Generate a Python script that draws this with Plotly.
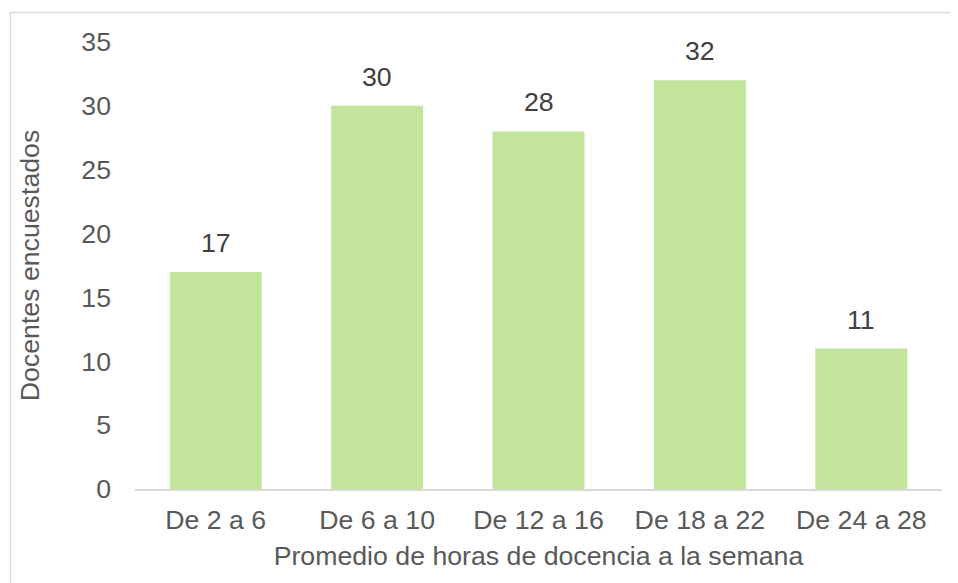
import plotly.graph_objects as go

categories = ["De 2 a 6", "De 6 a 10", "De 12 a 16", "De 18 a 22", "De 24 a 28"]
values = [17, 30, 28, 32, 11]
y_ticks = [0, 5, 10, 15, 20, 25, 30, 35]

TXT = "#595959"
FONT = "Liberation Sans, Arial, sans-serif"
FS = 26.7

W, H = 950, 575
L, R, T, B = 127, 16, 34, 94
PW, PH = W - L - R, H - T - B

fig = go.Figure(go.Bar(
    x=categories, y=values,
    marker=dict(color="#C2E49B", line=dict(width=0)),
    width=0.57,
))

for c, v in zip(categories, values):
    fig.add_annotation(x=c, y=v, text=str(v), showarrow=False,
                       yanchor="middle", yshift=29,
                       font=dict(size=FS, color="#404040", family=FONT))

fig.update_layout(
    width=W, height=H,
    margin=dict(l=L, r=R, t=T, b=B),
    paper_bgcolor="white", plot_bgcolor="white",
    font=dict(family=FONT, color=TXT, size=FS),
    showlegend=False,
    xaxis=dict(
        showline=True, linecolor="#D9D9D9", linewidth=1.5,
        showgrid=False, tickfont=dict(size=FS, color=TXT),
        ticklabelstandoff=6,
        title=dict(text="Promedio de horas de docencia a la semana",
                   font=dict(size=FS, color=TXT), standoff=13),
    ),
    yaxis=dict(
        range=[0, 35], tickvals=y_ticks, showgrid=False, zeroline=False,
        showline=False, tickfont=dict(size=FS, color=TXT),
        ticklabelstandoff=23,
        title=dict(text="Docentes encuestados",
                   font=dict(size=FS, color=TXT), standoff=33),
    ),
    shapes=[dict(type="rect", xref="paper", yref="paper",
                 x0=(2.5 - L) / PW, x1=1.2,
                 y0=-0.5, y1=(H - B - 4.5) / PH,
                 line=dict(color="#D9D9D9", width=1.5),
                 fillcolor="rgba(0,0,0,0)", layer="below")],
)

fig.write_html("out.html")
